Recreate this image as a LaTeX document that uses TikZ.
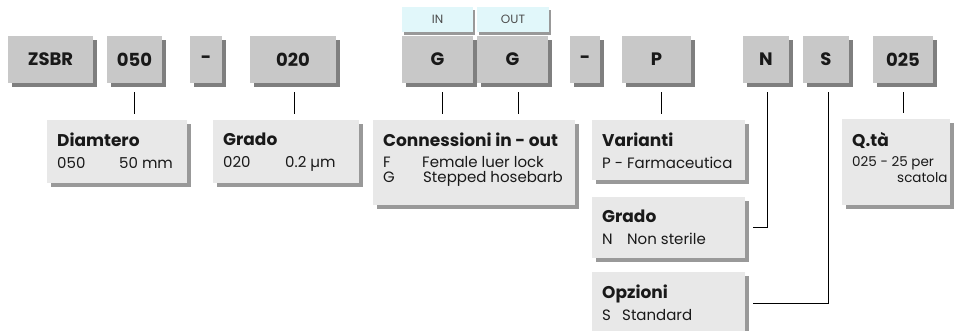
\documentclass[tikz,border=0pt]{standalone}
\usepackage{fontspec}
\setmainfont{Poppins}
\usepackage{xcolor}
\usepackage{tikz}
\usetikzlibrary{shadows,calc}
\definecolor{codegray}{HTML}{C8C8C8}
\definecolor{descgray}{HTML}{E8E8E8}
\definecolor{shadowdark}{HTML}{7F7F7F}
\definecolor{shadowlight}{HTML}{999999}
\definecolor{tabcyan}{HTML}{E1F7FA}
\tikzset{
  codebox/.style={fill=codegray, draw=none, minimum height=47pt, inner sep=0pt,
    font=\fontsize{18}{20}\selectfont\bfseries, text=black!90,
    drop shadow={shadow xshift=4pt, shadow yshift=-4pt, fill=shadowdark, opacity=1}},
  tabbox/.style={fill=tabcyan, draw=none, minimum height=25pt, inner sep=0pt,
    font=\fontsize{12}{14}\selectfont, text=black!70,
    drop shadow={shadow xshift=2pt, shadow yshift=-3pt, fill=shadowlight, opacity=1}},
  descbox/.style={fill=descgray, draw=none, anchor=north west, inner xsep=10pt, inner ysep=0pt,
    font=\fontsize{15}{16}\selectfont, text=black!90,
    drop shadow={shadow xshift=4pt, shadow yshift=-4pt, fill=shadowlight, opacity=1}},
  link/.style={line width=0.7pt, black}
}
% #1 height, #2 text width, #3 lines
\newcommand{\desc}[3]{\parbox[c][#1][t]{#2}{\vspace*{13pt}#3}}
\newcommand{\desctitle}[1]{\mbox{\fontsize{17}{19}\selectfont\bfseries #1}}
\newcommand{\descrow}[3]{\mbox{\makebox[#1][l]{#2}#3}}

\begin{document}
\begin{tikzpicture}[x=1pt, y=-1pt]
        \clip (0,0) rectangle (956,330);
          % code boxes
          \node[codebox, minimum width=85pt] (cZSBR) at (50.5,59.5) {ZSBR};
          \node[codebox, minimum width=55pt] (c050) at (134.5,59.5) {050};
          \node[codebox, minimum width=32pt] (cDash1) at (206,59.5) {-};
          \node[codebox, minimum width=86pt] (c020) at (293,59.5) {020};
          \node[codebox, minimum width=71pt] (cGin) at (437.5,59.5) {G};
          \node[codebox, minimum width=71pt] (cGout) at (512.5,59.5) {G};
          \node[codebox, minimum width=30pt] (cDash2) at (585,59.5) {-};
          \node[codebox, minimum width=69pt] (cP) at (656.5,59.5) {P};
          \node[codebox, minimum width=46pt] (cN) at (766,59.5) {N};
          \node[codebox, minimum width=46pt] (cS) at (826,59.5) {S};
          \node[codebox, minimum width=60pt] (c025) at (903,59.5) {025};

          % in / out tabs
          \node[tabbox, minimum width=71pt] (tIn) at (437.5,19.5) {IN};
          \node[tabbox, minimum width=72pt] (tOut) at (513,19.5) {OUT};

          % description boxes
          \node[descbox] (dDiam) at (47,120)
            {\desc{63pt}{120pt}{\desctitle{Diamtero}\\[6pt]\descrow{62pt}{050}{50 mm}}};
          \node[descbox] (dGrado) at (213,120)
            {\desc{63pt}{126pt}{\desctitle{Grado}\\[6pt]\descrow{62pt}{020}{0.2 µm}}};
          \node[descbox] (dConn) at (373,120)
            {\desc{85pt}{182pt}{\desctitle{Connessioni in - out}\\[5pt]\descrow{39pt}{F}{Female luer lock}\\[-1pt]\descrow{40pt}{G}{Stepped hosebarb}}};
          \node[descbox] (dVar) at (592,120)
            {\desc{60pt}{133pt}{\desctitle{Varianti}\\[6pt]\mbox{P - Farmaceutica}}};
          \node[descbox] (dGradoN) at (592,197)
            {\desc{61pt}{133pt}{\desctitle{Grado}\\[6pt]\descrow{25pt}{N}{Non sterile}}};
          \node[descbox] (dOpz) at (592,272)
            {\desc{62pt}{133pt}{\desctitle{Opzioni}\\[6pt]\descrow{20pt}{S}{Standard}}};
          \node[descbox] (dQta) at (842,119)
            {\desc{86pt}{88pt}{\desctitle{Q.tà}\\[4pt]\mbox{\fontsize{13.5}{16}\selectfont 025 - 25 per}\\[0pt]\descrow{45pt}{}{\fontsize{13.5}{16}\selectfont scatola}}};

          % links
          \draw[link] ([yshift=-9pt]c050.south) -- ($(c050.south |- dDiam.north)+(0,-6)$);
          \draw[link] ([xshift=1pt, yshift=-9pt]c020.south) -- ($([xshift=1pt]c020.south |- dGrado.north)+(0,-6)$);
          \draw[link] ([xshift=4.5pt, yshift=-9pt]cGin.south) -- ($([xshift=4.5pt]cGin.south |- dConn.north)+(0,-6)$);
          \draw[link] ([xshift=5.5pt, yshift=-9pt]cGout.south) -- ($([xshift=5.5pt]cGout.south |- dConn.north)+(0,-6)$);
          \draw[link] ([xshift=4.5pt, yshift=-9pt]cP.south) -- ($([xshift=4.5pt]cP.south |- dVar.north)+(0,-6)$);
          \draw[link] ([xshift=1pt, yshift=-9pt]cN.south) |- ([xshift=8pt]dGradoN.east);
          \draw[link] ([xshift=2pt, yshift=-9pt]cS.south) |- ([xshift=8pt]dOpz.east);
          \draw[link] ([yshift=-9pt]c025.south) -- ($(c025.south |- dQta.north)+(0,-6)$);
\end{tikzpicture}
\end{document}
